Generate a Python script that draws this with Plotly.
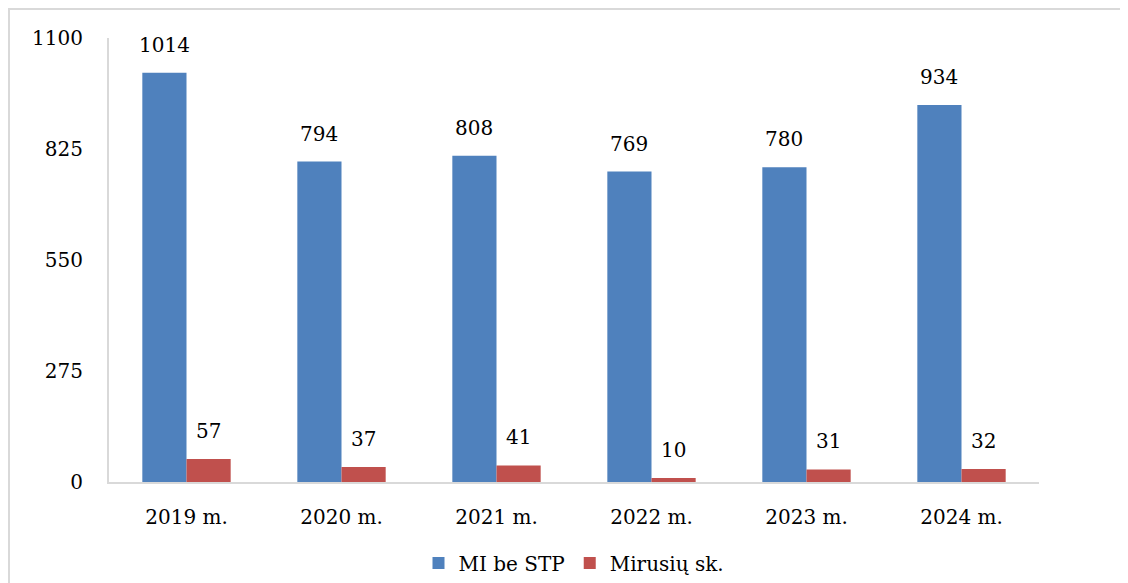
import plotly.graph_objects as go

categories = ["2019 m.", "2020 m.", "2021 m.", "2022 m.", "2023 m.", "2024 m."]
mi_be_stp = [1014, 794, 808, 769, 780, 934]
mirusiu = [57, 37, 41, 10, 31, 32]
y_ticks = [0, 275, 550, 825, 1100]

BLUE = "#4F81BD"
RED = "#C0504D"
FONT = "DejaVu Serif"
FS = 20

W, H = 1128, 583
OFF = 8  # page body margin
# plot area in page pixels
PL, PR, PT, PB = 109, 1039, 38, 482
L = PL - OFF
T = PT - OFF
R = W - (PR - OFF)
B = H - (PB - OFF)

fig = go.Figure()
fig.add_trace(go.Bar(name="MI be STP", x=categories, y=mi_be_stp, marker_color=BLUE,
                     marker_line_width=0))
fig.add_trace(go.Bar(name="Mirusių sk.", x=categories, y=mirusiu, marker_color=RED,
                     marker_line_width=0))

plot_w = PR - PL
plot_h = PB - PT
cat_w = plot_w / len(categories)
bargap = 0.43
bar_px = cat_w * (1 - bargap) / 2

annotations = []
for series, shift in ((mi_be_stp, -bar_px / 2), (mirusiu, bar_px / 2)):
    for c, v in zip(categories, series):
        annotations.append(dict(x=c, y=v, text=str(v), showarrow=False, xref="x", yref="y",
                                xshift=shift, yshift=14, yanchor="bottom",
                                font=dict(family=FONT, size=FS, color="black")))

def px_x(p):
    return (p - PL) / plot_w
def px_y(p):
    return (PB - p) / plot_h

fig.update_layout(
    width=W, height=H,
    margin=dict(l=L, r=R, t=T, b=B, autoexpand=False),
    paper_bgcolor="white", plot_bgcolor="white",
    barmode="group", bargap=bargap, bargroupgap=0,
    font=dict(family=FONT, size=FS, color="black"),
    showlegend=True,
    legend=dict(orientation="h", x=px_x(574), xanchor="center", y=px_y(563), yanchor="middle",
                font=dict(family=FONT, size=FS, color="black"), itemwidth=30,
                traceorder="normal"),
    xaxis=dict(showline=True, linecolor="#D9D9D9", linewidth=2, ticks="", showgrid=False,
               ticklabelstandoff=16, tickfont=dict(family=FONT, size=FS)),
    yaxis=dict(range=[0, 1100], tickvals=y_ticks, showline=True, linecolor="#D9D9D9",
               linewidth=2, ticks="", showgrid=False, zeroline=False,
               ticklabelstandoff=20, tickfont=dict(family=FONT, size=FS)),
    annotations=annotations,
    shapes=[dict(type="rect", xref="paper", yref="paper",
                 x0=px_x(9), x1=px_x(1140), y0=px_y(9), y1=px_y(600),
                 line=dict(color="#D9D9D9", width=2), fillcolor="rgba(0,0,0,0)", layer="below")],
)

fig.write_html("out.html")
